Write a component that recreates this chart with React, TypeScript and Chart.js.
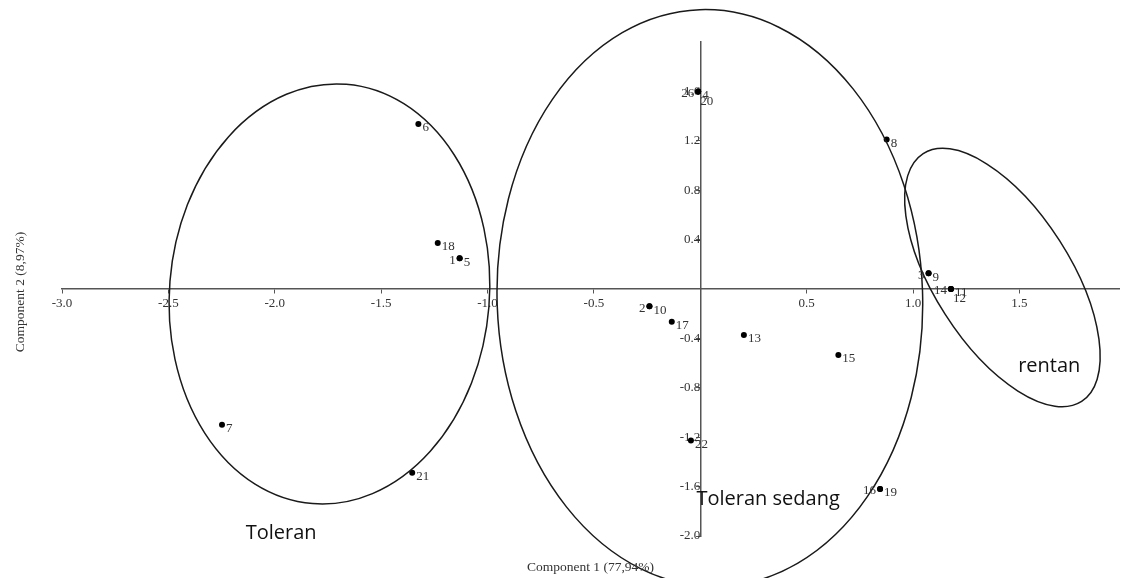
import React, { useEffect, useRef } from 'react';
import { Chart, registerables } from 'chart.js';

Chart.register(...registerables);

// Sample labels and PCA scores (Component 1, Component 2)
const sampleLabels = ['1', '2', '3', '4', '5', '6', '7', '8', '9', '10', '11', '12', '13', '14', '15', '16', '17', '18', '19', '20', '21', '22', '26'];
const comp1 = [-1.131, -0.239, 1.073, -0.01, -1.131, -1.325, -2.248, 0.876, 1.073, -0.239, 1.178, 1.178, 0.205, 1.178, 0.649, 0.845, -0.134, -1.234, 0.845, -0.01, -1.354, -0.044, -0.01];
const comp2 = [0.249, -0.14, 0.127, 1.6, 0.249, 1.336, -1.1, 1.21, 0.127, -0.14, 0.0, 0.0, -0.373, 0.0, -0.535, -1.62, -0.266, 0.373, -1.62, 1.6, -1.487, -1.226, 1.6];
// which side of the dot the label sits: r = right, l = left, br = below right
const labelSide = ['l', 'l', 'l', 'r', 'r', 'r', 'r', 'r', 'r', 'r', 'r', 'br', 'r', 'l', 'r', 'l', 'r', 'r', 'r', 'br', 'r', 'r', 'l'];

// Axis ticks
const xTickValues = [-3.0, -2.5, -2.0, -1.5, -1.0, -0.5, 0.5, 1.0, 1.5];
const yTickValues = [-2.0, -1.6, -1.2, -0.8, -0.4, 0.4, 0.8, 1.2, 1.6];

// Group ellipses (center in data units, radii in x / y units, rotation in degrees)
const groupNames = ['Toleran', 'Toleran sedang', 'rentan'];
const ellipseCX = [-1.743, 0.045, 1.42];
const ellipseCY = [-0.04, -0.073, 0.093];
const ellipseRX = [0.752, 1.0, 0.691];
const ellipseRY = [1.703, 2.336, 0.551];
const ellipseRot = [4.6, -2, 57.4];
const groupLabelX = [-1.97, 0.319, 1.64];
const groupLabelY = [-1.979, -1.703, -0.624];

const xTitle = 'Component 1 (77,94%)';
const yTitle = 'Component 2 (8,97%)';

const annotPlugin = {
  id: 'annot',
  afterDatasetsDraw(chart: any) {
    const ctx = chart.ctx as CanvasRenderingContext2D;
    const xs = chart.scales.x;
    const ys = chart.scales.y;
    const area = chart.chartArea;
    const pxX = Math.abs(xs.getPixelForValue(1) - xs.getPixelForValue(0));
    const pxY = Math.abs(ys.getPixelForValue(0) - ys.getPixelForValue(1));
    ctx.save();
    // ellipses
    ctx.strokeStyle = '#1a1a1a';
    ctx.lineWidth = 1.5;
    for (let i = 0; i < groupNames.length; i++) {
      ctx.beginPath();
      ctx.ellipse(
        xs.getPixelForValue(ellipseCX[i]),
        ys.getPixelForValue(ellipseCY[i]),
        ellipseRX[i] * pxX,
        ellipseRY[i] * pxY,
        (ellipseRot[i] * Math.PI) / 180,
        0,
        Math.PI * 2
      );
      ctx.stroke();
    }
    // point labels
    const meta = chart.getDatasetMeta(0);
    ctx.font = '13px "Liberation Serif"';
    ctx.fillStyle = '#333';
    ctx.textBaseline = 'middle';
    meta.data.forEach((el: any, i: number) => {
      const side = labelSide[i];
      if (side === 'l') {
        ctx.textAlign = 'right';
        ctx.fillText(sampleLabels[i], el.x - 4, el.y + 2);
      } else if (side === 'br') {
        ctx.textAlign = 'left';
        ctx.fillText(sampleLabels[i], el.x + 2, el.y + 10);
      } else {
        ctx.textAlign = 'left';
        ctx.fillText(sampleLabels[i], el.x + 4, el.y + 4);
      }
    });
    // group names
    ctx.font = '20px "Open Sans"';
    ctx.fillStyle = '#111';
    ctx.textAlign = 'center';
    for (let i = 0; i < groupNames.length; i++) {
      ctx.fillText(groupNames[i], xs.getPixelForValue(groupLabelX[i]), ys.getPixelForValue(groupLabelY[i]));
    }
    // axis titles
    ctx.font = '13.5px "Liberation Serif"';
    ctx.fillStyle = '#333';
    ctx.textAlign = 'center';
    ctx.fillText(xTitle, (area.left + area.right) / 2, area.bottom + 31);
    ctx.translate(20, (area.top + area.bottom) / 2 + 3);
    ctx.rotate(-Math.PI / 2);
    ctx.fillText(yTitle, 0, 0);
    ctx.restore();
  },
};

export default function App() {
  const ref = useRef<HTMLCanvasElement | null>(null);
  useEffect(() => {
    if (!ref.current) return;
    const tickFont = { family: 'Liberation Serif', size: 13 };
    const chart = new Chart(ref.current, {
      type: 'scatter',
      data: {
        datasets: [
          {
            data: comp1.map((x, i) => ({ x, y: comp2[i] })),
            pointRadius: 3,
            pointHoverRadius: 3,
            backgroundColor: '#000',
            borderColor: '#000',
            borderWidth: 0,
            clip: false as any,
          },
        ],
      },
      options: {
        animation: false,
        responsive: false,
        devicePixelRatio: 1,
        events: [],
        layout: { padding: { left: 62, right: 0, top: 42, bottom: 42 } },
        plugins: { legend: { display: false }, tooltip: { enabled: false } },
        scales: {
          x: {
            type: 'linear',
            min: -3,
            max: 1.968,
            position: { y: 0 } as any,
            afterBuildTicks: (s: any) => {
              s.ticks = xTickValues.map((v) => ({ value: v }));
            },
            ticks: {
              autoSkip: false,
              maxRotation: 0,
              padding: 3,
              font: tickFont,
              color: '#333',
              callback: (v: any) => Number(v).toFixed(1),
            },
            grid: { drawOnChartArea: false, drawTicks: true, tickLength: 4, color: '#555' },
            border: { display: true, color: '#555', width: 1.5 },
          },
          y: {
            type: 'linear',
            min: -2,
            max: 2,
            position: { x: 0 } as any,
            afterBuildTicks: (s: any) => {
              s.ticks = yTickValues.map((v) => ({ value: v }));
            },
            ticks: {
              autoSkip: false,
              padding: 2,
              font: tickFont,
              color: '#333',
              callback: (v: any) => Number(v).toFixed(1),
            },
            grid: { drawOnChartArea: false, drawTicks: true, tickLength: 4, color: '#555' },
            border: { display: true, color: '#555', width: 1.5 },
          },
        },
      },
      plugins: [annotPlugin],
    });
    return () => chart.destroy();
  }, []);
  return (
    <div style={{ position: 'absolute', left: 0, top: 0, width: 1122, height: 578, background: '#fff' }}>
      <canvas ref={ref} width={1122} height={578} style={{ display: 'block' }} />
    </div>
  );
}
